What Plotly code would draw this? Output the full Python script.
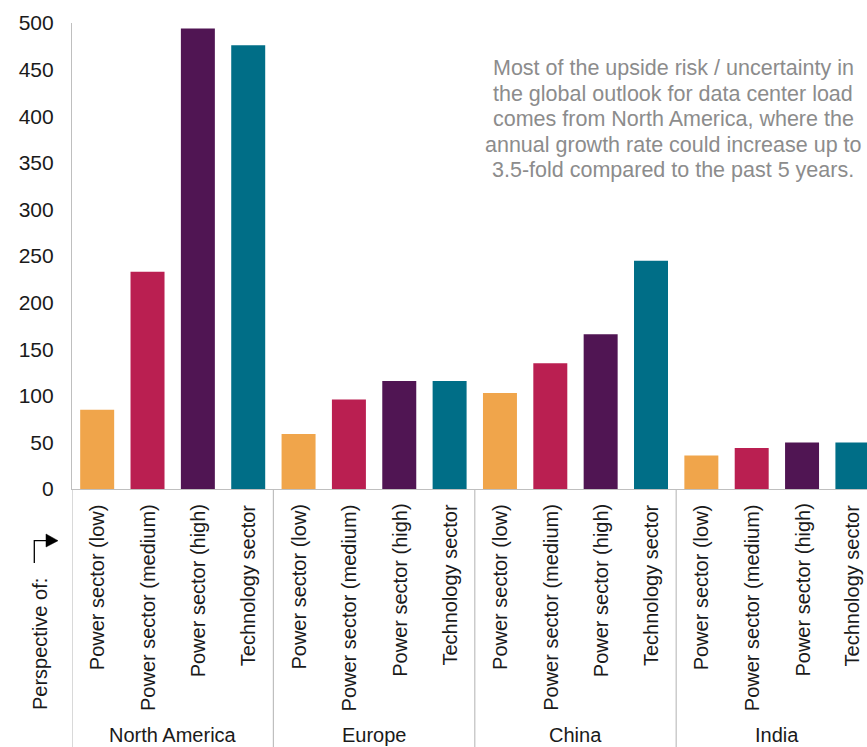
import plotly.graph_objects as go

# Data center load outlook by region and source of perspective
regions = ["North America", "Europe", "China", "India"]
perspectives = ["Power sector (low)", "Power sector (medium)",
                "Power sector (high)", "Technology sector"]
colors = ["#F0A54B", "#BA1F51", "#501553", "#006E87"]

north_america = [85, 233, 494, 476]
europe = [59, 96, 116, 116]
china = [103, 135, 166, 245]
india = [36, 44, 50, 50]
values_by_region = [north_america, europe, china, india]

note_lines = ["Most of the upside risk / uncertainty in",
              "the global outlook for data center load",
              "comes from North America, where the",
              "annual growth rate could increase up to",
              "3.5-fold compared to the past 5 years."]

W, H = 867, 747
ML, MR, MT, MB = 72, 0, 23, 258
PW, PH = W - ML - MR, H - MT - MB
FONT = "Arial, Liberation Sans, sans-serif"
TEXT = "#1a1a1a"
AXIS = "#BFBFBF"


def px_x(px):
    return (px - ML) / PW


def px_y(py):
    return (H - MB - py) / PH


xs, ys, cs, labels = [], [], [], []
for g, vals in enumerate(values_by_region):
    for k, v in enumerate(vals):
        xs.append(g * 4 + k)
        ys.append(v)
        cs.append(colors[k])
        labels.append(perspectives[k])

fig = go.Figure(go.Bar(
    x=xs, y=ys, width=0.675,
    marker=dict(color=cs, line=dict(width=0)),
    hovertext=labels, showlegend=False,
))

fig.update_xaxes(range=[-0.5, 15.29], showticklabels=False, ticks="",
                 showgrid=False, zeroline=False, showline=True,
                 linecolor=AXIS, linewidth=1.2)
fig.update_yaxes(range=[0, 500], dtick=50, showgrid=False, zeroline=False,
                 showline=True, linecolor=AXIS, linewidth=1.2, ticks="",
                 ticklabelstandoff=13,
                 tickfont=dict(family=FONT, size=21, color=TEXT))

shapes = []
annotations = []
bottom = -MB / PH
# group separators running down through the category labels
for g in range(len(regions)):
    shapes.append(dict(type="line", xref="x", yref="paper",
                       x0=g * 4 - 0.5, x1=g * 4 - 0.5, y0=0, y1=bottom,
                       line=dict(color=AXIS, width=1.2)))
    annotations.append(dict(xref="x", yref="paper", x=g * 4 + 1.5,
                            y=px_y(735), text=regions[g], showarrow=False,
                            xanchor="center", yanchor="middle",
                            font=dict(family=FONT, size=20, color=TEXT)))

# rotated category labels
for x, lab in zip(xs, labels):
    annotations.append(dict(xref="x", yref="paper", x=x, y=px_y(502),
                            text=lab, textangle=-90, showarrow=False,
                            yanchor="top", xanchor="center",
                            font=dict(family=FONT, size=20, color=TEXT)))

annotations.append(dict(xref="paper", yref="paper", x=px_x(40), y=px_y(644),
                        text="Perspective of:", textangle=-90,
                        showarrow=False, xanchor="center", yanchor="middle",
                        font=dict(family=FONT, size=20, color=TEXT)))

# callout text, one line per annotation for tighter leading
for i, line in enumerate(note_lines):
    annotations.append(dict(xref="paper", yref="paper", x=px_x(673),
                            y=px_y(68 + i * 25.5), text=line,
                            showarrow=False, xanchor="center",
                            yanchor="middle",
                            font=dict(family=FONT, size=21.5,
                                      color="#8C8C8C")))

# elbow arrow next to the "Perspective of:" label
elbow = "M {} {} L {} {} L {} {}".format(
    px_x(34.3), px_y(563), px_x(34.3), px_y(540.7), px_x(47), px_y(540.7))
shapes.append(dict(type="path", xref="paper", yref="paper", path=elbow,
                   line=dict(color="#000000", width=1.3)))
head = "M {} {} L {} {} L {} {} Z".format(
    px_x(46), px_y(534), px_x(58), px_y(540.7), px_x(46), px_y(547))
shapes.append(dict(type="path", xref="paper", yref="paper", path=head,
                   fillcolor="#000000", line=dict(color="#000000", width=0.5)))

fig.update_layout(
    width=W, height=H,
    margin=dict(l=ML, r=MR, t=MT, b=MB),
    paper_bgcolor="white", plot_bgcolor="white",
    shapes=shapes, annotations=annotations,
    font=dict(family=FONT, color=TEXT),
)

fig.write_html("out.html")
